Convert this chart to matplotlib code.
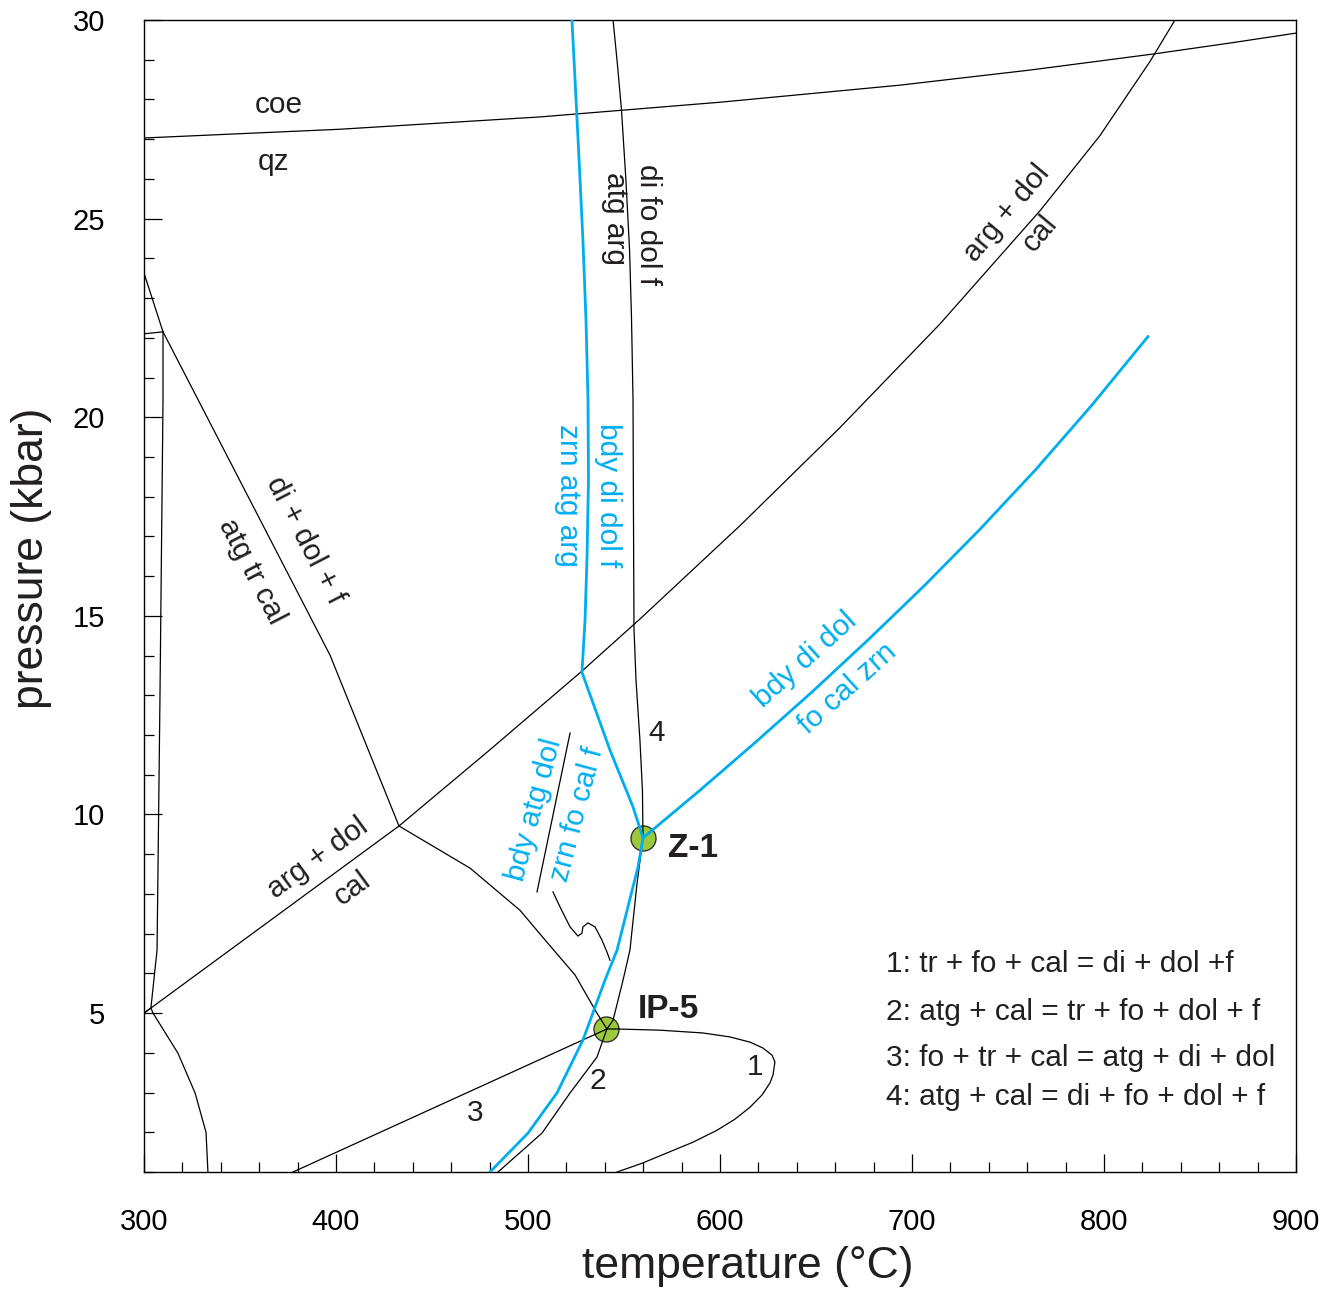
import matplotlib
matplotlib.use("Agg")
import matplotlib.pyplot as plt
from matplotlib.ticker import MultipleLocator

plt.rcParams['font.family'] = ['Liberation Sans', 'DejaVu Sans']

BLUE = '#00aeef'
INK = '#231f20'

# coesite / quartz
coe_qz_T = [300, 402.1, 506.25, 600, 693.75, 761.5, 826.6, 865.6, 900]
coe_qz_P = [27.03, 27.25, 27.56, 27.93, 28.36, 28.74, 29.15, 29.42, 29.67]

# arg + dol = cal
arg_dol_T = [300, 432.8, 480.2, 528.1, 558.3, 610.4, 662.5, 714.6, 766.7, 797.9, 824.0, 837.0]
arg_dol_P = [5.0, 9.71, 11.63, 13.61, 14.92, 17.27, 19.74, 22.35, 25.20, 27.09, 28.96, 30.0]

# reaction 4 continuing as reaction 2 below IP-5
r4_T = [544.3, 546.6, 548.7, 551.0, 552.9, 553.9, 554.7, 554.9, 555.2, 556.25, 558.3, 559.6, 559.9,
        556.8, 553.1, 549.5, 544.3, 541.1, 535.9, 521.9, 507.3, 484.4]
r4_P = [30.0, 28.87, 27.73, 25.97, 24.21, 22.52, 20.43, 17.92, 14.69, 13.38, 11.87, 10.61, 9.41,
        8.27, 6.59, 5.83, 4.82, 4.60, 3.89, 2.99, 1.98, 1.0]

# di + dol + f = atg tr cal
didol_T = [300, 309.9, 396.9, 432.8]
didol_P = [23.63, 22.15, 14.01, 9.71]

stub_T = [300, 309.9]
stub_P = [22.1, 22.15]

# near-vertical left line and its continuation below 5 kbar
left_T = [309.9, 309.9, 308.3, 306.8, 303.6, 300]
left_P = [22.15, 20.43, 12.88, 6.59, 5.13, 5.0]
low_T = [303.6, 304.7, 317.7, 326.6, 332.3, 333.3]
low_P = [5.13, 5.0, 3.99, 2.99, 2.0, 1.0]

# triple point down to IP-5
mid_T = [432.8, 469.8, 495.8, 508.9, 524.5, 535.9, 541.1]
mid_P = [9.71, 8.65, 7.59, 6.84, 5.96, 5.0, 4.60]

# reaction 3
r3_T = [377.6, 541.1]
r3_P = [1.0, 4.60]

# reaction 1 loop
r1_T = [541.1, 546.4, 568.75, 591.1, 605.2, 615.6, 622.4, 627.1, 628.6, 627.6, 626.0,
        621.9, 615.6, 607.8, 598.4, 585.9, 572.4, 559.4, 546.4]
r1_P = [4.60, 4.60, 4.57, 4.50, 4.40, 4.27, 4.12, 3.94, 3.77, 3.44, 3.24,
        2.94, 2.63, 2.33, 2.05, 1.75, 1.48, 1.22, 1.0]

# blue boundaries
bdy_T = [522.9, 524.5, 526.6, 528.6, 530.2, 531.25, 531.5, 530.7, 529.7, 528.1,
         542.7, 554.7, 559.9, 557.3, 546.4, 540.1, 528.6, 515.1, 500.0, 480.2]
bdy_P = [30.0, 28.49, 26.48, 24.46, 22.45, 20.43, 18.42, 16.41, 14.89, 13.58,
         11.62, 10.19, 9.41, 8.68, 6.59, 5.83, 4.32, 2.99, 1.98, 1.0]
bdy2_T = [559.9, 589.1, 618.3, 647.6, 676.8, 706.0, 735.2, 764.4, 793.6, 822.9]
bdy2_P = [9.41, 10.59, 11.81, 13.07, 14.38, 15.74, 17.17, 18.68, 20.30, 22.03]

# leader and fraction bar for the bdy atg dol label
lead_T = [513.0, 516.7, 521.9, 526.0, 528.1, 528.6, 531.25, 534.9, 538.5, 541.1, 542.7]
lead_P = [8.05, 7.67, 7.17, 6.94, 7.01, 7.17, 7.27, 7.17, 6.84, 6.54, 6.33]
bar_T = [521.9, 504.7]
bar_P = [12.05, 8.05]

samples = ['Z-1', 'IP-5']
sample_T = [559.9, 540.4]
sample_P = [9.41, 4.60]

legend_lines = ['1: tr + fo + cal = di + dol +f',
                '2: atg + cal = tr + fo + dol + f',
                '3: fo + tr + cal = atg + di + dol',
                '4: atg + cal = di + fo + dol + f']
legend_P = [6.24, 5.03, 3.87, 2.89]

fig = plt.figure(figsize=(13.33, 12.93), dpi=100)
ax = fig.add_axes([144/1333, 1 - 1172/1293, 1152/1333, 1152/1293])

blk = dict(color='black', lw=0.9, zorder=3, solid_joinstyle='round')
for T, P in [(coe_qz_T, coe_qz_P), (arg_dol_T, arg_dol_P), (r4_T, r4_P),
             (didol_T, didol_P), (stub_T, stub_P), (left_T, left_P),
             (low_T, low_P), (mid_T, mid_P), (r3_T, r3_P), (r1_T, r1_P),
             (lead_T, lead_P), (bar_T, bar_P)]:
    ax.plot(T, P, **blk)

ax.plot(bdy_T, bdy_P, color=BLUE, lw=2.0, zorder=4, solid_joinstyle='round')
ax.plot(bdy2_T, bdy2_P, color=BLUE, lw=2.0, zorder=4, solid_joinstyle='round')

ax.plot(sample_T, sample_P, 'o', ms=18, mfc='#9cc93c', mec='#333333', mew=1.0,
        zorder=2, clip_on=False)

fs = 21.5
def lab(x, y, s, rot=0, color=INK, **kw):
    ax.text(x, y, s, rotation=rot, rotation_mode='anchor', ha='center',
            va='center', color=color, fontsize=kw.pop('fontsize', fs), **kw)

lab(370.3, 27.86, 'coe')
lab(367.7, 26.42, 'qz')
lab(562.5, 24.84, 'di fo dol f', rot=-90)
lab(545.3, 25.0, 'atg arg', rot=-90)
lab(749.5, 25.14, 'arg + dol', rot=50)
lab(766.7, 24.64, 'cal', rot=50)
lab(383.9, 16.91, 'di + dol + f', rot=-62.7)
lab(356.3, 16.13, 'atg tr cal', rot=-62.7)
lab(541.7, 18.04, 'bdy di dol f', rot=-90, color=BLUE)
lab(520.8, 18.04, 'zrn atg arg', rot=-90, color=BLUE)
lab(644.3, 13.89, 'bdy di dol', rot=42, color=BLUE)
lab(666.7, 13.18, 'fo cal zrn', rot=42, color=BLUE)
lab(503.1, 10.11, 'bdy atg dol', rot=75, color=BLUE)
lab(525.5, 9.99, 'zrn fo cal f', rot=75, color=BLUE)
lab(390.6, 8.90, 'arg + dol', rot=36.3)
lab(408.3, 8.15, 'cal', rot=36.3)
lab(567.2, 12.05, '4')
lab(618.2, 3.64, '1')
lab(536.5, 3.29, '2')
lab(472.4, 2.48, '3')

ax.text(572.9, 9.15, samples[0], ha='left', va='center', fontsize=24,
        fontweight='bold', color=INK)
ax.text(557.3, 5.08, samples[1], ha='left', va='center', fontsize=24,
        fontweight='bold', color=INK)

for s, p in zip(legend_lines, legend_P):
    ax.text(686.5, p, s, ha='left', va='center', fontsize=fs, color=INK)

ax.set_xlim(300, 900)
ax.set_ylim(1, 30)
ax.xaxis.set_major_locator(MultipleLocator(100))
ax.xaxis.set_minor_locator(MultipleLocator(20))
ax.yaxis.set_major_locator(MultipleLocator(5))
ax.yaxis.set_minor_locator(MultipleLocator(1))
ax.tick_params(which='both', direction='in', width=0.9, colors='black')
ax.tick_params(which='major', length=13, labelsize=21)
ax.tick_params(which='minor', length=7)
ax.tick_params(axis='x', which='major', pad=26)
ax.tick_params(axis='y', which='major', pad=28)
for sp in ax.spines.values():
    sp.set_linewidth(1.0)

ax.set_xlabel('temperature (°C)', fontsize=32, color=INK)
ax.set_ylabel('pressure (kbar)', fontsize=32, color=INK)
ax.xaxis.set_label_coords(0.524, -0.064)
ax.yaxis.set_label_coords(-0.0799, 0.533)

fig.savefig('out.png', dpi=100)
